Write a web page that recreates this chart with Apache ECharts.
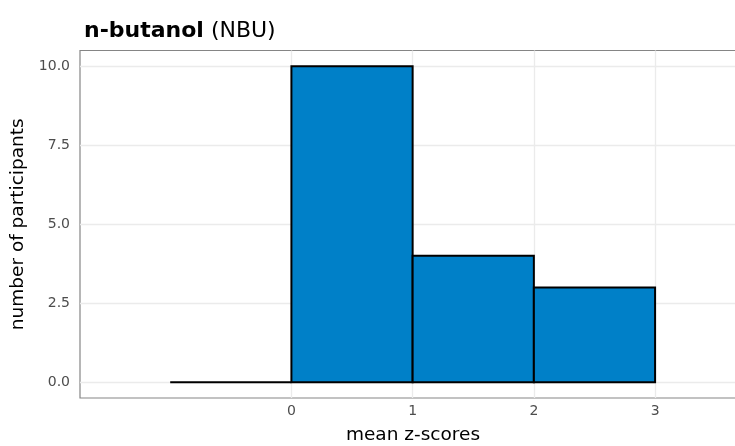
<!DOCTYPE html>
<html>
<head>
<meta charset="utf-8">
<script src="https://cdn.jsdelivr.net/npm/echarts@6/dist/echarts.min.js"></script>
<style>html,body{margin:0;padding:0;background:#fff;}#c{width:735px;height:446px;}</style>
</head>
<body>
<div id="c"></div>
<script>
// Histogram bins (mean z-scores) and counts
const binStart = [-1, 0, 1, 2];
const binEnd   = [0, 1, 2, 3];
const counts   = [0, 10, 4, 3];
const xTicks = [0, 1, 2, 3];
const yTicks = [0, 2.5, 5, 7.5, 10];
const yTickLabels = ['0.0', '2.5', '5.0', '7.5', '10.0'];

const XMIN = -1.744, XMAX = 3.75;
const YMIN = -0.5, YMAX = 10.5;

const chart = echarts.init(document.getElementById('c'), null, {renderer: 'canvas'});
const FONT = 'DejaVu Sans, Liberation Sans, Arial, sans-serif';

const option = {
  animation: false,
  backgroundColor: '#ffffff',
  title: {
    text: '{b|n-butanol} {n|(NBU)}',
    left: 79, top: 15,
    textStyle: {
      fontWeight: 'normal', fontFamily: FONT, fontSize: 22, color: '#000',
      rich: {
        b: {fontFamily: FONT, fontSize: 22, fontWeight: 'bold', color: '#000'},
        n: {fontFamily: FONT, fontSize: 22, fontWeight: 'normal', color: '#000'}
      }
    }
  },
  grid: {
    left: 80, top: 50.5, width: 666, height: 347.5,
    outerBoundsMode: 'none', containLabel: false,
    show: true, borderColor: '#858585', borderWidth: 1.2, backgroundColor: 'transparent'
  },
  xAxis: {
    type: 'value', min: XMIN, max: XMAX,
    axisLine: {show: false},
    splitLine: {show: false},
    axisTick: {show: true, customValues: xTicks, length: 4, lineStyle: {color: '#555'}},
    axisLabel: {customValues: xTicks, color: '#4d4d4d', fontSize: 14, fontFamily: FONT, margin: 6,
      formatter: v => String(v)},
    name: 'mean z-scores', nameLocation: 'middle', nameGap: 28,
    nameTextStyle: {color: '#000', fontSize: 18.5, fontFamily: FONT}
  },
  yAxis: {
    type: 'value', min: YMIN, max: YMAX,
    axisLine: {show: false},
    splitLine: {show: false},
    axisTick: {show: true, customValues: yTicks, length: 4, lineStyle: {color: '#555'}},
    axisLabel: {customValues: yTicks, color: '#4d4d4d', fontSize: 14, fontFamily: FONT, margin: 10,
      formatter: v => yTickLabels[yTicks.indexOf(v)] !== undefined ? yTickLabels[yTicks.indexOf(v)] : v.toFixed(1)},
    name: 'number of participants', nameLocation: 'middle', nameGap: 47, nameRotate: 90,
    nameTextStyle: {color: '#000', fontSize: 18.5, fontFamily: FONT}
  },
  series: [
    {
      type: 'line', data: [], z: 1, silent: true,
      markLine: {
        silent: true, symbol: ['none', 'none'], animation: false,
        label: {show: false},
        lineStyle: {color: '#ebebeb', width: 1.3, type: 'solid'},
        emphasis: {disabled: true},
        data: yTicks.map(v => ({yAxis: v})).concat(xTicks.map(v => ({xAxis: v})))
      }
    },
    {
      type: 'custom', z: 5,
      data: binStart.map((s, i) => [s, binEnd[i], counts[i]]),
      renderItem: function (params, api) {
        const p0 = api.coord([api.value(0), 0]);
        const p1 = api.coord([api.value(1), api.value(2)]);
        return {
          type: 'rect',
          shape: {x: p0[0], y: p1[1], width: p1[0] - p0[0], height: p0[1] - p1[1]},
          style: {fill: '#0080C8', stroke: '#000', lineWidth: 2}
        };
      }
    }
  ]
};
chart.setOption(option);
</script>
</body>
</html>
